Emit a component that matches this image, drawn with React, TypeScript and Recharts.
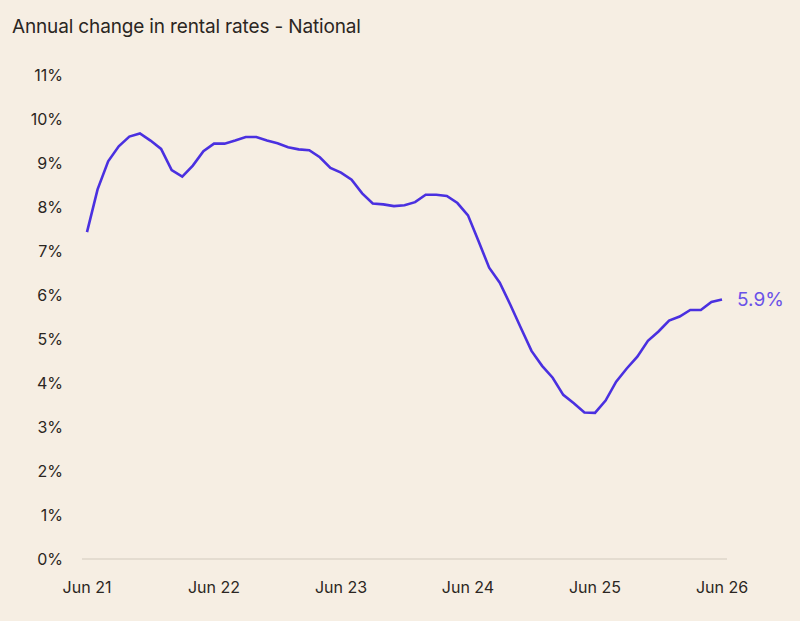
import React from "react";
import { LineChart, Line, XAxis, YAxis } from "recharts";

const months: string[] = [
  "Jun 21", "Jul 21", "Aug 21", "Sep 21", "Oct 21", "Nov 21", "Dec 21",
  "Jan 22", "Feb 22", "Mar 22", "Apr 22", "May 22", "Jun 22", "Jul 22",
  "Aug 22", "Sep 22", "Oct 22", "Nov 22", "Dec 22", "Jan 23", "Feb 23",
  "Mar 23", "Apr 23", "May 23", "Jun 23", "Jul 23", "Aug 23", "Sep 23",
  "Oct 23", "Nov 23", "Dec 23", "Jan 24", "Feb 24", "Mar 24", "Apr 24",
  "May 24", "Jun 24", "Jul 24", "Aug 24", "Sep 24", "Oct 24", "Nov 24",
  "Dec 24", "Jan 25", "Feb 25", "Mar 25", "Apr 25", "May 25", "Jun 25",
  "Jul 25", "Aug 25", "Sep 25", "Oct 25", "Nov 25", "Dec 25", "Jan 26",
  "Feb 26", "Mar 26", "Apr 26", "May 26", "Jun 26",
];

// annual % change in rents, national
const annualChange: number[] = [
  7.43, 8.4, 9.04, 9.38, 9.6, 9.67, 9.51, 9.32, 8.84, 8.69, 8.94, 9.27,
  9.44, 9.44, 9.51, 9.59, 9.59, 9.51, 9.45, 9.36, 9.31, 9.29, 9.13, 8.89,
  8.78, 8.62, 8.31, 8.08, 8.06, 8.02, 8.04, 8.11, 8.28, 8.28, 8.25, 8.09,
  7.81, 7.22, 6.62, 6.28, 5.78, 5.25, 4.73, 4.39, 4.12, 3.73, 3.54, 3.33,
  3.32, 3.6, 4.03, 4.33, 4.6, 4.96, 5.17, 5.42, 5.51, 5.66, 5.66, 5.84,
  5.9,
];

const yTicks: number[] = [0, 1, 2, 3, 4, 5, 6, 7, 8, 9, 10, 11];

const data = months.map((m, i) => ({ month: m, value: annualChange[i] }));

const BG = "#f6eee3";
const TEXT = "#2b2622";
const LINE = "#4a30e0";
const FONT = "Inter, 'Noto Sans', sans-serif";

// only the latest point gets a value label
const EndLabel = (props: any) => {
  const { x, y, index, value } = props;
  if (index !== data.length - 1) return null;
  return (
    <text
      x={x + 15}
      y={y}
      dy="0.355em"
      fill="#6a52e8"
      fontSize={19}
      fontFamily={FONT}
    >
      {`${value}%`}
    </text>
  );
};

export default function App() {
  return (
    <div
      style={{
        position: "absolute",
        left: 0,
        top: 0,
        width: 800,
        height: 621,
        background: BG,
        fontFamily: FONT,
      }}
    >
      <div
        style={{
          position: "absolute",
          left: 12,
          top: 17,
          fontSize: 19,
          lineHeight: "20px",
          color: TEXT,
          letterSpacing: -0.15,
        }}
      >
        Annual change in rental rates - National
      </div>
      <LineChart
        width={800}
        height={621}
        data={data}
        margin={{ top: 75, right: 73, left: 22, bottom: 22 }}
      >
        <XAxis
          dataKey="month"
          interval={11}
          padding={{ left: 5, right: 5 }}
          axisLine={{ stroke: "#e4dcd0", strokeWidth: 2 }}
          tickLine={false}
          tickSize={0}
          tickMargin={23}
          height={40}
          tick={{ fill: TEXT, fontSize: 16, fontFamily: FONT }}
        />
        <YAxis
          domain={[0, 11]}
          ticks={yTicks}
          width={60}
          axisLine={false}
          tickLine={false}
          tickSize={0}
          tickMargin={19}
          tickFormatter={(v: number) => `${v}%`}
          tick={{ fill: TEXT, fontSize: 16, fontFamily: FONT }}
        />
        <Line
          type="linear"
          dataKey="value"
          stroke={LINE}
          strokeWidth={2.6}
          dot={false}
          label={<EndLabel />}
          isAnimationActive={false}
        />
      </LineChart>
    </div>
  );
}
